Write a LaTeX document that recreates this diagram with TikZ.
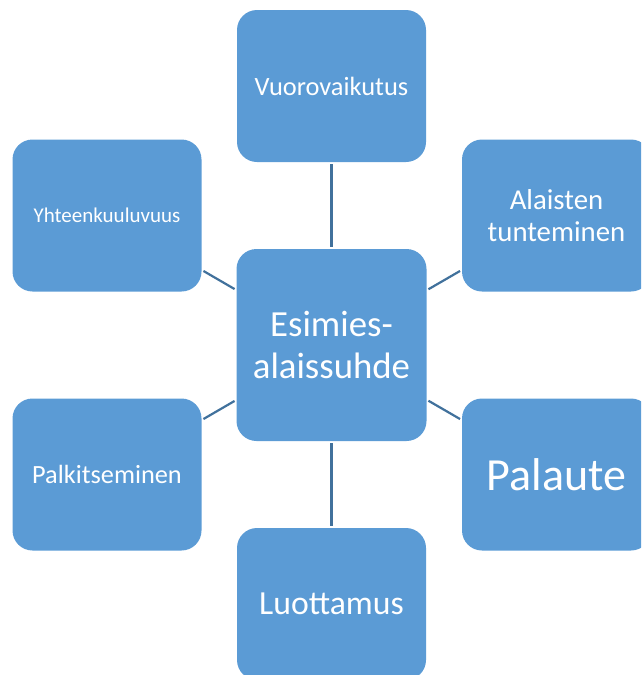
\documentclass[tikz,border=0pt]{standalone}
\usepackage{fontspec}
\setmainfont{Carlito}
\usetikzlibrary{positioning}
\definecolor{boxblue}{RGB}{91,155,213}
\definecolor{linkblue}{RGB}{65,113,156}
\tikzset{
  topic/.style={fill=boxblue, rounded corners=20pt, minimum width=189pt,
    minimum height=152pt, text=white, align=center, inner sep=0pt},
  link/.style={draw=linkblue, line width=2.2pt, shorten <=2pt, shorten >=2pt}
}
\begin{document}
\begin{tikzpicture}[x=1pt, y=-1pt]
\clip (0,0) rectangle (641,675);

% center
\node[topic, minimum width=190pt, minimum height=192pt,
  font=\fontsize{36.8}{42}\selectfont] (core) at (331.5,345) {Esimies-\\alaissuhde};

% surrounding boxes
\node[topic, font=\fontsize{26.4}{32}\selectfont] (vuoro) at (331.5,86) {Vuorovaikutus};
\node[topic, font=\fontsize{21}{26}\selectfont] (yhteen) at (107,215.5) {Yhteenkuuluvuus};
\node[topic, font=\fontsize{28.8}{32}\selectfont] (alaiset) at (556.5,215.5) {Alaisten\\tunteminen};
\node[topic, font=\fontsize{26.3}{32}\selectfont] (palkit) at (107,474.5) {Palkitseminen};
\node[topic, font=\fontsize{46}{52}\selectfont] (palaute) at (556.5,474.5) {Palaute};
\node[topic, font=\fontsize{33.7}{40}\selectfont] (luotto) at (331.5,604) {Luottamus};

% links
\draw[link] (core) -- (vuoro);
\draw[link] (core) -- (yhteen);
\draw[link] (core) -- (alaiset);
\draw[link] (core) -- (palkit);
\draw[link] (core) -- (palaute);
\draw[link] (core) -- (luotto);
\end{tikzpicture}
\end{document}
